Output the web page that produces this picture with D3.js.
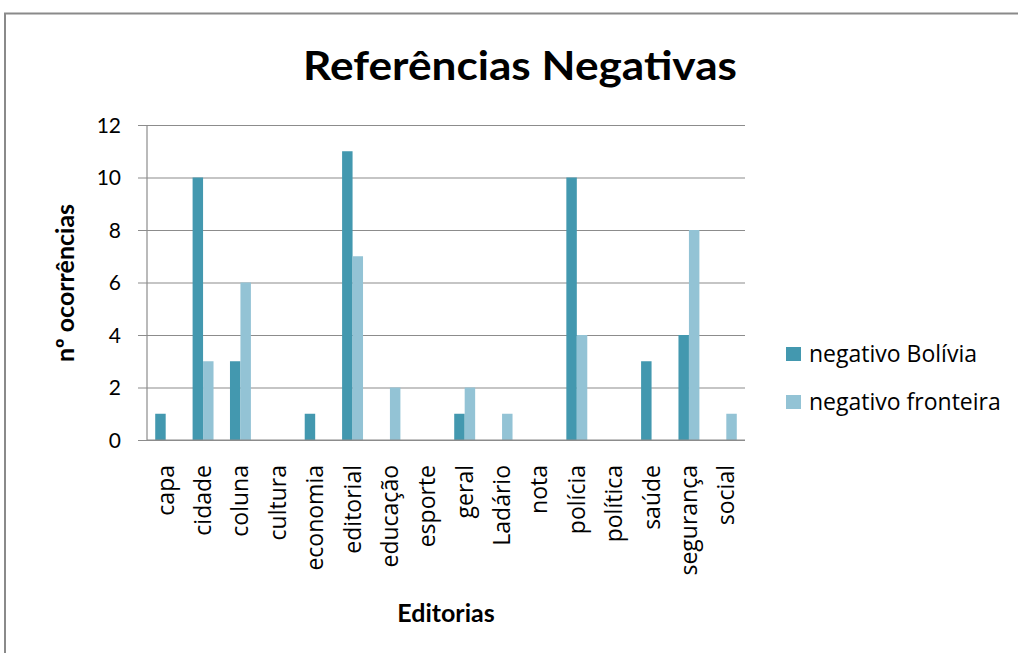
<!DOCTYPE html>
<html>
<head>
<meta charset="utf-8">
<script src="https://cdn.jsdelivr.net/npm/d3@7"></script>
<style>
  html, body { margin: 0; padding: 0; background: #fff; }
  svg { display: block; }
  text { font-family: "Open Sans", Lato, sans-serif; fill: #000; }
</style>
</head>
<body>
<svg id="chart" width="1018" height="653"></svg>
<script>
// Editorias (sections) and number of negative references per series
const categories = ["capa", "cidade", "coluna", "cultura", "economia", "editorial", "educação", "esporte",
                    "geral", "Ladário", "nota", "polícia", "política", "saúde", "segurança", "social"];
const seriesNames = ["negativo Bolívia", "negativo fronteira"];
const bolivia   = [1, 10, 3, 0, 1, 11, 0, 0, 1, 0, 0, 10, 0, 3, 4, 0];
const fronteira = [0, 3, 6, 0, 0, 7, 2, 0, 2, 1, 0, 4, 0, 0, 8, 1];
const yTicks = [0, 2, 4, 6, 8, 10, 12];
const colors = ["#4398AF", "#93C3D5"];

const svg = d3.select("#chart");
const W = 1018, H = 653;

// chart frame
svg.append("path")
  .attr("d", `M5,${H + 2} V13.5 H${W + 2}`)
  .attr("fill", "none").attr("stroke", "#8a8a8a").attr("stroke-width", 2);

const plot = { left: 147, right: 745, top: 125, bottom: 440 };

const x = d3.scaleBand().domain(categories).range([plot.left, plot.right]).paddingInner(0).paddingOuter(0);
const y = d3.scaleLinear().domain([0, 12]).range([plot.bottom, plot.top]);
const barW = x.bandwidth() * 0.28;

// gridlines + y ticks
const yAxis = d3.axisLeft(y).tickValues(yTicks).tickSize(plot.right - plot.left + 9).tickPadding(17);
const gy = svg.append("g").attr("transform", `translate(${plot.right},0)`).call(yAxis);
gy.select(".domain").remove();
gy.selectAll(".tick line").attr("stroke", "#8c8c8c").attr("stroke-width", 1.2);
gy.selectAll(".tick text").attr("font-size", 21).attr("fill", "#000").attr("dy", "0.35em")
  .style("font-family", "Lato, 'Open Sans', sans-serif");

// vertical axis line
svg.append("line")
  .attr("x1", plot.left).attr("x2", plot.left)
  .attr("y1", plot.top).attr("y2", plot.bottom)
  .attr("stroke", "#8c8c8c").attr("stroke-width", 1.2);

// bars
const data = [bolivia, fronteira];
data.forEach((vals, si) => {
  svg.append("g").selectAll("rect")
    .data(vals.map((v, i) => ({ cat: categories[i], v })))
    .join("rect")
    .filter(d => d.v > 0)
    .attr("x", d => x(d.cat) + x.bandwidth() / 2 - barW + si * barW)
    .attr("y", d => y(d.v))
    .attr("width", barW)
    .attr("height", d => y(0) - y(d.v))
    .attr("fill", colors[si]);
});

// baseline drawn over bars
svg.append("line")
  .attr("x1", plot.left).attr("x2", plot.right)
  .attr("y1", y(0)).attr("y2", y(0))
  .attr("stroke", "#8c8c8c").attr("stroke-width", 1.2);

// category labels (rotated)
svg.append("g").selectAll("text")
  .data(categories)
  .join("text")
  .attr("transform", d => `translate(${x(d) + x.bandwidth() / 2 + 8},${plot.bottom + 25}) rotate(-90)`)
  .attr("text-anchor", "end")
  .attr("font-size", 23)
  .text(d => d);

// title
svg.append("text")
  .attr("x", 520).attr("y", 80)
  .attr("text-anchor", "middle")
  .attr("font-size", 40).attr("font-weight", "bold")
  .attr("textLength", 434).attr("lengthAdjust", "spacingAndGlyphs")
  .style("font-family", "Lato, sans-serif")
  .text("Referências Negativas");

// axis titles
svg.append("text")
  .attr("transform", `translate(74,283) rotate(-90)`)
  .attr("text-anchor", "middle")
  .attr("font-size", 25).attr("font-weight", "bold")
  .style("font-family", "Lato, sans-serif")
  .text("nº ocorrências");

svg.append("text")
  .attr("x", 446).attr("y", 622)
  .attr("text-anchor", "middle")
  .attr("font-size", 25).attr("font-weight", "bold")
  .style("font-family", "Lato, sans-serif")
  .text("Editorias");

// legend
const legend = svg.append("g");
seriesNames.forEach((name, i) => {
  const ly = 354 + i * 48;
  legend.append("rect")
    .attr("x", 786).attr("y", ly - 7).attr("width", 15).attr("height", 14)
    .attr("fill", colors[i]);
  legend.append("text")
    .attr("x", 809).attr("y", ly).attr("dy", "0.35em")
    .attr("font-size", 23)
    .text(name);
});
</script>
</body>
</html>
